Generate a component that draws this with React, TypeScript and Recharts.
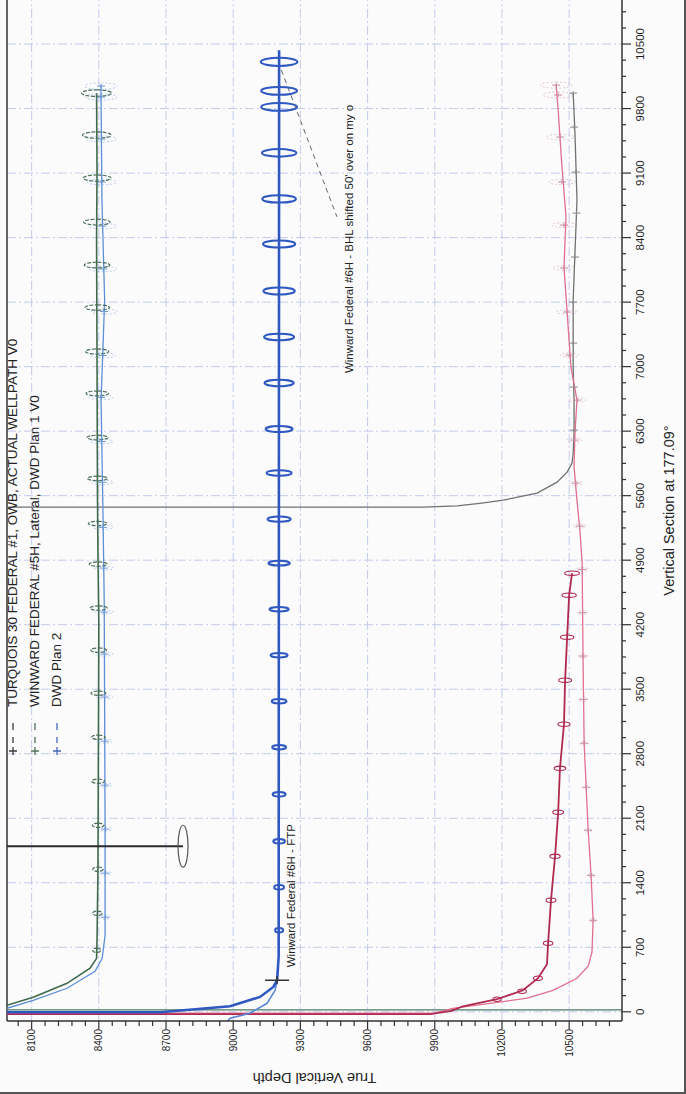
import React from "react";
import {
  ComposedChart,
  Line,
  Scatter,
  XAxis,
  YAxis,
  CartesianGrid,
  ReferenceLine,
  Legend,
} from "recharts";

// original chart is landscape (VS across, TVD down), the page shows it turned 90deg ccw
const FONT = '"Liberation Sans", Arial, Helvetica, sans-serif';

const VS_DOMAIN = [-100, 10978];
const TVD_DOMAIN = [7990, 10736];
const VS_MAJOR = [0, 700, 1400, 2100, 2800, 3500, 4200, 4900, 5600, 6300, 7000, 7700, 8400, 9100, 9800, 10500];
const TVD_MAJOR = [8100, 8400, 8700, 9000, 9300, 9600, 9900, 10200, 10500];
const VS_TICKS = Array.from({ length: 63 }, (_, i) => i * 175);
const TVD_TICKS = Array.from({ length: 45 }, (_, i) => 8040 + i * 60);

const LEGEND_ROWS = [
  { name: "TURQUOIS 30 FEDERAL #1, OWB, ACTUAL WELLPATH V0", color: "#3a3a3a" },
  { name: "WINWARD FEDERAL #5H, Lateral, DWD Plan 1 V0", color: "#4f6f55" },
  { name: "DWD Plan 2", color: "#4466bb" },
];

// well paths: vs = vertical section (ft), tvd = true vertical depth (ft)
const turquoisActual = [
  { vs: 71, tvd: 7990 }, { vs: 157, tvd: 8107 }, { vs: 309, tvd: 8258 }, { vs: 472, tvd: 8361 },
  { vs: 580, tvd: 8390 }, { vs: 776, tvd: 8392 }, { vs: 1500, tvd: 8396 }, { vs: 2800, tvd: 8398 },
  { vs: 4200, tvd: 8400 }, { vs: 5000, tvd: 8396 }, { vs: 5600, tvd: 8394 }, { vs: 7000, tvd: 8392 },
  { vs: 8400, tvd: 8390 }, { vs: 9100, tvd: 8392 }, { vs: 9968, tvd: 8390 },
];
const turquoisPlan = [
  { vs: 38, tvd: 7990 }, { vs: 125, tvd: 8107 }, { vs: 255, tvd: 8258 }, { vs: 440, tvd: 8383 },
  { vs: 580, tvd: 8415 }, { vs: 830, tvd: 8428 }, { vs: 2000, tvd: 8428 }, { vs: 4466, tvd: 8424 },
  { vs: 5500, tvd: 8418 }, { vs: 6637, tvd: 8410 }, { vs: 7722, tvd: 8426 }, { vs: 8800, tvd: 8414 },
  { vs: 9893, tvd: 8410 }, { vs: 10055, tvd: 8410 },
];
const offsetVertical = [{ vs: 20, tvd: 7990 }, { vs: 20, tvd: 10736 }];
const winward6H = [
  { vs: -5, tvd: 7990 }, { vs: -5, tvd: 8674 }, { vs: 60, tvd: 8986 }, { vs: 161, tvd: 9120 },
  { vs: 269, tvd: 9179 }, { vs: 342, tvd: 9196 }, { vs: 600, tvd: 9203 }, { vs: 10434, tvd: 9205 },
];
const winward6HAlt = [
  { vs: -100, tvd: 8975 }, { vs: -71, tvd: 8986 }, { vs: -16, tvd: 9075 }, { vs: 92, tvd: 9151 },
  { vs: 233, tvd: 9187 }, { vs: 342, tvd: 9196 },
];
const redActual = [
  { vs: -25, tvd: 7990 }, { vs: -25, tvd: 9880 }, { vs: 10, tvd: 9975 }, { vs: 60, tvd: 10026 },
  { vs: 136, tvd: 10178 }, { vs: 233, tvd: 10294 }, { vs: 364, tvd: 10361 }, { vs: 516, tvd: 10401 },
  { vs: 744, tvd: 10406 }, { vs: 1210, tvd: 10419 }, { vs: 1687, tvd: 10437 }, { vs: 2165, tvd: 10451 },
  { vs: 2642, tvd: 10459 }, { vs: 3120, tvd: 10477 }, { vs: 3598, tvd: 10482 }, { vs: 4064, tvd: 10491 },
  { vs: 4520, tvd: 10500 }, { vs: 4759, tvd: 10513 },
];
const pinkPlan = [
  { vs: -15, tvd: 7990 }, { vs: -15, tvd: 9900 }, { vs: 38, tvd: 9981 }, { vs: 147, tvd: 10312 },
  { vs: 233, tvd: 10428 }, { vs: 364, tvd: 10535 }, { vs: 494, tvd: 10585 }, { vs: 646, tvd: 10602 },
  { vs: 993, tvd: 10607 }, { vs: 1481, tvd: 10598 }, { vs: 1970, tvd: 10585 }, { vs: 2436, tvd: 10576 },
  { vs: 2913, tvd: 10567 }, { vs: 3847, tvd: 10562 }, { vs: 4867, tvd: 10558 }, { vs: 5193, tvd: 10549 },
  { vs: 5551, tvd: 10535 }, { vs: 5910, tvd: 10522 }, { vs: 6279, tvd: 10526 }, { vs: 6637, tvd: 10535 },
  { vs: 6995, tvd: 10508 }, { vs: 8081, tvd: 10477 }, { vs: 8623, tvd: 10486 }, { vs: 9166, tvd: 10468 },
  { vs: 9784, tvd: 10451 }, { vs: 10055, tvd: 10442 },
];
const grayWell = [
  { vs: 5475, tvd: 7990 }, { vs: 5475, tvd: 9850 }, { vs: 5490, tvd: 10000 }, { vs: 5520, tvd: 10110 },
  { vs: 5551, tvd: 10206 }, { vs: 5627, tvd: 10357 }, { vs: 5747, tvd: 10446 }, { vs: 5855, tvd: 10491 },
  { vs: 5953, tvd: 10513 }, { vs: 6062, tvd: 10518 }, { vs: 6279, tvd: 10522 }, { vs: 6637, tvd: 10522 },
  { vs: 6995, tvd: 10518 }, { vs: 7722, tvd: 10518 }, { vs: 8808, tvd: 10535 }, { vs: 9535, tvd: 10526 },
  { vs: 9969, tvd: 10518 },
];
const blackWell = [{ vs: 1796, tvd: 7990 }, { vs: 1796, tvd: 8776 }];
const blackWellEnd = [{ vs: 1796, tvd: 8776 }];

// error ellipses: e = semi-axis along TVD (ft)
const blueEllipses = [
  { vs: 885, tvd: 9205, e: 18 }, { vs: 1351, tvd: 9205, e: 22 }, { vs: 1850, tvd: 9205, e: 26 },
  { vs: 2360, tvd: 9205, e: 29 }, { vs: 2870, tvd: 9205, e: 31 }, { vs: 3370, tvd: 9205, e: 33 },
  { vs: 3869, tvd: 9205, e: 38 }, { vs: 4368, tvd: 9205, e: 43 }, { vs: 4868, tvd: 9205, e: 48 },
  { vs: 5345, tvd: 9205, e: 52 }, { vs: 5846, tvd: 9205, e: 56 }, { vs: 6323, tvd: 9205, e: 60 },
  { vs: 6822, tvd: 9205, e: 65 }, { vs: 7322, tvd: 9205, e: 67 }, { vs: 7821, tvd: 9205, e: 70 },
  { vs: 8331, tvd: 9205, e: 72 }, { vs: 8820, tvd: 9205, e: 75 }, { vs: 9319, tvd: 9205, e: 77 },
  { vs: 9818, tvd: 9205, e: 80 }, { vs: 9992, tvd: 9205, e: 80 }, { vs: 10307, tvd: 9205, e: 82 },
];
const greenEllipses = [
  { vs: 9968, tvd: 8390, e: 67 }, { vs: 9512, tvd: 8391, e: 64 }, { vs: 9046, tvd: 8392, e: 62 },
  { vs: 8568, tvd: 8391, e: 59 }, { vs: 8102, tvd: 8392, e: 57 }, { vs: 7641, tvd: 8393, e: 55 },
  { vs: 7164, tvd: 8392, e: 52 }, { vs: 6709, tvd: 8393, e: 50 }, { vs: 6231, tvd: 8394, e: 47 },
  { vs: 5787, tvd: 8394, e: 45 }, { vs: 5298, tvd: 8395, e: 42 }, { vs: 4857, tvd: 8397, e: 40 },
  { vs: 4380, tvd: 8399, e: 38 }, { vs: 3924, tvd: 8399, e: 35 }, { vs: 3457, tvd: 8398, e: 33 },
  { vs: 2979, tvd: 8398, e: 30 }, { vs: 2502, tvd: 8397, e: 28 }, { vs: 2024, tvd: 8397, e: 26 },
  { vs: 1547, tvd: 8396, e: 23 }, { vs: 1069, tvd: 8394, e: 21 }, { vs: 667, tvd: 8391, e: 18 },
];
const planMarks = [
  { vs: 10044, tvd: 8410, e: 72 }, { vs: 9925, tvd: 8410, e: 70 }, { vs: 9469, tvd: 8411, e: 67 },
  { vs: 9003, tvd: 8413, e: 65 }, { vs: 8525, tvd: 8416, e: 62 }, { vs: 8059, tvd: 8420, e: 60 },
  { vs: 7598, tvd: 8424, e: 58 }, { vs: 7121, tvd: 8418, e: 55 }, { vs: 6666, tvd: 8410, e: 53 },
  { vs: 6188, tvd: 8413, e: 50 }, { vs: 5744, tvd: 8416, e: 48 }, { vs: 5255, tvd: 8419, e: 45 },
  { vs: 4814, tvd: 8422, e: 43 }, { vs: 4337, tvd: 8424, e: 41 }, { vs: 3881, tvd: 8425, e: 38 },
  { vs: 3414, tvd: 8426, e: 36 }, { vs: 2936, tvd: 8427, e: 33 }, { vs: 2459, tvd: 8427, e: 31 },
  { vs: 1981, tvd: 8428, e: 29 }, { vs: 1504, tvd: 8428, e: 26 }, { vs: 1026, tvd: 8428, e: 24 },
];
const redEllipses = [
  { vs: 136, tvd: 10178, e: 18 }, { vs: 223, tvd: 10290, e: 19 }, { vs: 364, tvd: 10361, e: 20 },
  { vs: 744, tvd: 10406, e: 21 }, { vs: 1210, tvd: 10419, e: 22 }, { vs: 1687, tvd: 10437, e: 23 },
  { vs: 2165, tvd: 10451, e: 24 }, { vs: 2642, tvd: 10459, e: 26 }, { vs: 3120, tvd: 10477, e: 27 },
  { vs: 3598, tvd: 10482, e: 29 }, { vs: 4064, tvd: 10491, e: 30 }, { vs: 4520, tvd: 10500, e: 32 },
  { vs: 4759, tvd: 10513, e: 33 },
];
const pinkMarks = [
  { vs: 10055, tvd: 10442, e: 70 }, { vs: 9947, tvd: 10451, e: 66 }, { vs: 9491, tvd: 10460, e: 62 },
  { vs: 9003, tvd: 10468, e: 58 }, { vs: 8536, tvd: 10477, e: 54 }, { vs: 8070, tvd: 10477, e: 50 },
  { vs: 7592, tvd: 10490, e: 46 }, { vs: 7125, tvd: 10502, e: 42 }, { vs: 6637, tvd: 10535, e: 38 },
  { vs: 6203, tvd: 10524, e: 34 }, { vs: 5736, tvd: 10530, e: 30 }, { vs: 5270, tvd: 10547, e: 28 },
  { vs: 4800, tvd: 10558, e: 26 }, { vs: 4330, tvd: 10560, e: 24 }, { vs: 3860, tvd: 10562, e: 22 },
  { vs: 3390, tvd: 10564, e: 20 }, { vs: 2913, tvd: 10567, e: 18 }, { vs: 2436, tvd: 10576, e: 16 },
  { vs: 1970, tvd: 10585, e: 14 }, { vs: 1481, tvd: 10598, e: 13 }, { vs: 993, tvd: 10607, e: 12 },
];
const grayMarks = [
  { vs: 9968, tvd: 10518 }, { vs: 9599, tvd: 10522 }, { vs: 9111, tvd: 10530 }, { vs: 8666, tvd: 10533 },
  { vs: 8189, tvd: 10526 }, { vs: 7700, tvd: 10518 }, { vs: 7255, tvd: 10518 }, { vs: 6778, tvd: 10520 },
  { vs: 6311, tvd: 10522 },
];

const ftpPoint = [{ vs: 342, tvd: 9196 }];
const ftpLabel = [{ vs: 483, tvd: 9258 }];
const bhlLabel = [{ vs: 6930, tvd: 9517 }];
const bhlLeader = [{ x: 10218, y: 9215 }, { x: 8626, y: 9463 }];

const TVD_PX = 615 / (TVD_DOMAIN[1] - TVD_DOMAIN[0]);

const renderVsTick = (props: any) => {
  const { x, y, payload } = props;
  const major = VS_MAJOR.includes(payload.value);
  return (
    <g>
      <line x1={x} y1={y} x2={x} y2={y + (major ? 9 : 4)} stroke="#333" strokeWidth={1.2} />
      {major && (
        <text x={x} y={y + 22} textAnchor="middle" fontSize={11.5} fill="#1e1e1e" fontFamily={FONT}>
          {payload.value}
        </text>
      )}
    </g>
  );
};

const renderTvdTick = (props: any) => {
  const { x, y, payload } = props;
  const major = TVD_MAJOR.includes(payload.value);
  return (
    <g>
      <line x1={x} y1={y} x2={x - (major ? 8 : 5)} y2={y} stroke="#333" strokeWidth={1.2} />
      {major && (
        <text x={x - 8} y={y + 3.5} textAnchor="end" fontSize={10} fill="#1e1e1e" fontFamily={FONT}>
          {payload.value}
        </text>
      )}
    </g>
  );
};

const ellipseShape = (color: string, width: number, dash?: string) => (p: any) => {
  const ry = p.payload.e * TVD_PX;
  const rx = Math.max(2.2, ry * 0.22);
  return (
    <ellipse cx={p.cx} cy={p.cy} rx={rx} ry={ry} fill="none" stroke={color} strokeWidth={width} strokeDasharray={dash} />
  );
};

const markShape = (color: string) => (p: any) => {
  const ry = p.payload.e * TVD_PX;
  return (
    <g>
      <ellipse cx={p.cx} cy={p.cy} rx={Math.max(2, ry * 0.2)} ry={ry} fill="none" stroke={color} strokeWidth={0.8} strokeDasharray="2 2" opacity={0.6} />
      <line x1={p.cx} y1={p.cy - 4} x2={p.cx} y2={p.cy + 4} stroke={color} strokeWidth={1} />
      <line x1={p.cx - 2} y1={p.cy} x2={p.cx + 2} y2={p.cy} stroke={color} strokeWidth={1} />
    </g>
  );
};

const crossShape = (color: string) => (p: any) => (
  <g>
    <line x1={p.cx} y1={p.cy - 4} x2={p.cx} y2={p.cy + 4} stroke={color} strokeWidth={1} />
    <line x1={p.cx - 2} y1={p.cy} x2={p.cx + 2} y2={p.cy} stroke={color} strokeWidth={1} />
  </g>
);

const textShape = (value: string) => (p: any) => (
  <text x={p.cx} y={p.cy} dominantBaseline="central" fontSize={11.5} fill="#222" fontFamily={FONT}>
    {value}
  </text>
);

const LegendBox = () => (
  <div style={{ fontFamily: FONT, fontSize: 13.5, color: "#222", lineHeight: "22px" }}>
    {LEGEND_ROWS.map((r) => (
      <div key={r.name} style={{ display: "flex", alignItems: "center", whiteSpace: "nowrap" }}>
        <svg width={50} height={22}>
          <line x1={2} y1={11} x2={10} y2={11} stroke={r.color} strokeWidth={1.3} />
          <line x1={6} y1={7} x2={6} y2={15} stroke={r.color} strokeWidth={1.3} />
          <line x1={14} y1={11} x2={20} y2={11} stroke={r.color} strokeWidth={1.3} />
          <line x1={27} y1={11} x2={34} y2={11} stroke={r.color} strokeWidth={1.3} />
        </svg>
        <span>{r.name}</span>
      </div>
    ))}
  </div>
);

export default function App() {
  return (
    <div
      style={{
        position: "absolute",
        left: 0,
        top: 0,
        width: 686,
        height: 1094,
        overflow: "hidden",
        background: "#fbfbfc",
        boxSizing: "border-box",
        borderRight: "2px solid #555",
        borderBottom: "2px solid #555",
      }}
    >
      <div
        style={{
          position: "absolute",
          left: 0,
          top: 0,
          width: 1094,
          height: 686,
          transformOrigin: "0 0",
          transform: "translate(0px, 1094px) rotate(-90deg)",
        }}
      >
        <ComposedChart width={1094} height={686} margin={{ top: 7, right: 0, bottom: 0, left: 0 }} style={{ fontFamily: FONT }}>
          <CartesianGrid horizontalValues={TVD_MAJOR} verticalValues={VS_MAJOR} stroke="#c4cbeb" strokeDasharray="9 3 2 3" />
          <XAxis
            type="number"
            dataKey="vs"
            domain={VS_DOMAIN}
            allowDataOverflow
            ticks={VS_TICKS}
            interval={0}
            tickSize={0}
            tickMargin={0}
            tickLine={false}
            tick={renderVsTick}
            height={64}
            axisLine={{ stroke: "#333", strokeWidth: 1.5 }}
            label={{ value: "Vertical Section at 177.09°", position: "insideBottom", offset: 12, style: { fontSize: 14.5, fill: "#222" } }}
          />
          <YAxis
            type="number"
            dataKey="tvd"
            domain={TVD_DOMAIN}
            reversed
            allowDataOverflow
            ticks={TVD_TICKS}
            interval={0}
            tickSize={0}
            tickMargin={0}
            tickLine={false}
            tick={renderTvdTick}
            width={73}
            axisLine={{ stroke: "#333", strokeWidth: 1.5 }}
            label={{ value: "True Vertical Depth", angle: -90, position: "insideLeft", offset: 16, style: { textAnchor: "middle", fontSize: 14.5, fill: "#222" } }}
          />
          <ReferenceLine y={TVD_DOMAIN[0]} stroke="#333" strokeWidth={1.5} />
          <Legend layout="horizontal" verticalAlign="middle" align="center" wrapperStyle={{ left: 337, top: 2, width: 520 }} content={() => <LegendBox />} />

          <Line data={offsetVertical} dataKey="tvd" type="linear" stroke="#4d7a66" strokeWidth={1.3} dot={false} isAnimationActive={false} />
          <Line data={grayWell} dataKey="tvd" type="linear" stroke="#6f7270" strokeWidth={1.3} dot={false} isAnimationActive={false} />
          <Line data={pinkPlan} dataKey="tvd" type="linear" stroke="#e0708e" strokeWidth={1.3} dot={false} isAnimationActive={false} />
          <Line data={redActual} dataKey="tvd" type="linear" stroke="#b02a50" strokeWidth={1.8} dot={false} isAnimationActive={false} />
          <Line data={turquoisPlan} dataKey="tvd" type="linear" stroke="#5c8fd8" strokeWidth={1.3} dot={false} isAnimationActive={false} />
          <Line data={turquoisActual} dataKey="tvd" type="linear" stroke="#3f6a4c" strokeWidth={1.6} dot={false} isAnimationActive={false} />
          <Line data={winward6HAlt} dataKey="tvd" type="linear" stroke="#5a86d6" strokeWidth={1.6} dot={false} isAnimationActive={false} />
          <Line data={winward6H} dataKey="tvd" type="linear" stroke="#2f58c0" strokeWidth={2.6} dot={false} isAnimationActive={false} />
          <Line data={blackWell} dataKey="tvd" type="linear" stroke="#2b2b2b" strokeWidth={2} dot={false} isAnimationActive={false} />

          <Scatter data={blueEllipses} dataKey="tvd" shape={ellipseShape("#2f58c0", 2)} isAnimationActive={false} />
          <Scatter data={greenEllipses} dataKey="tvd" shape={ellipseShape("#4a6e55", 1.2, "4 1.5")} isAnimationActive={false} />
          <Scatter data={planMarks} dataKey="tvd" shape={markShape("#6f9ad8")} isAnimationActive={false} />
          <Scatter data={redEllipses} dataKey="tvd" shape={ellipseShape("#b02a50", 1.1)} isAnimationActive={false} />
          <Scatter data={pinkMarks} dataKey="tvd" shape={markShape("#c98aa0")} isAnimationActive={false} />
          <Scatter data={grayMarks} dataKey="tvd" shape={crossShape("#888")} isAnimationActive={false} />
          <Scatter
            data={blackWellEnd}
            dataKey="tvd"
            shape={(p: any) => <ellipse cx={p.cx} cy={p.cy} rx={21} ry={5} fill="none" stroke="#555" strokeWidth={1.2} />}
            isAnimationActive={false}
          />
          <Scatter
            data={ftpPoint}
            dataKey="tvd"
            shape={(p: any) => (
              <g>
                <line x1={p.cx} y1={p.cy - 12} x2={p.cx} y2={p.cy + 12} stroke="#333" strokeWidth={1.5} />
                <line x1={p.cx - 4} y1={p.cy} x2={p.cx + 4} y2={p.cy} stroke="#333" strokeWidth={1.5} />
              </g>
            )}
            isAnimationActive={false}
          />
          <Scatter data={ftpLabel} dataKey="tvd" shape={textShape("Winward Federal #6H - FTP")} isAnimationActive={false} />
          <ReferenceLine segment={bhlLeader} stroke="#666" strokeDasharray="5 4" />
          <Scatter data={bhlLabel} dataKey="tvd" shape={textShape("Winward Federal #6H - BHL shifted 50' over on my o")} isAnimationActive={false} />
        </ComposedChart>
      </div>
    </div>
  );
}
